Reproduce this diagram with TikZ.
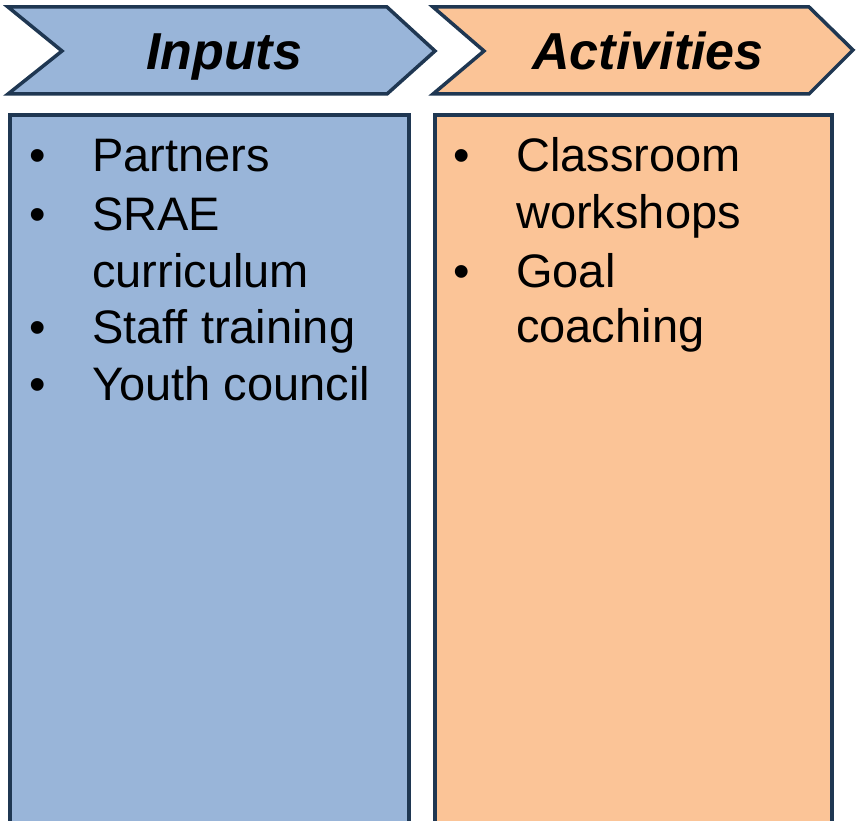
\documentclass[tikz,border=0pt]{standalone}
\usepackage{fontspec}
\setmainfont{Liberation Sans}
\usepackage{tikz}
\usetikzlibrary{positioning}

\definecolor{inputblue}{RGB}{153,181,217}
\definecolor{actorange}{RGB}{251,196,151}
\definecolor{edgenavy}{RGB}{31,55,82}

\tikzset{
    banner/.style = {draw = edgenavy, line width = 3.5pt, line join = miter},
    column/.style = {draw = edgenavy, line width = 3.5pt},
    head/.style = {font = \fontsize{52}{60}\selectfont\bfseries\itshape, inner sep = 0pt},
    entry/.style = {font = \fontsize{47}{57}\selectfont, inner sep = 0pt, anchor = base west},
    dot/.style = {font = \fontsize{47}{57}\selectfont, inner sep = 0pt, anchor = base}
}

\begin{document}
\begin{tikzpicture}[x = 1pt, y = -1pt]
        \useasboundingbox (0, 0) rectangle (856, 821);
        % chevrons on top
        \fill [inputblue] (8, 7) -- (387, 7) -- (435, 51) -- (387, 94) -- (8, 94) -- (62, 51) -- cycle;
        \draw [banner] (8, 7) -- (387, 7) -- (435, 51) -- (387, 94) -- (8, 94) -- (62, 51) -- cycle;
        \fill [actorange] (433, 7) -- (809, 7) -- (853, 50) -- (809, 94) -- (433, 94) -- (484, 51) -- cycle;
        \draw [banner] (433, 7) -- (809, 7) -- (853, 50) -- (809, 94) -- (433, 94) -- (484, 51) -- cycle;
        % columns, open at the bottom
        \fill [inputblue] (10, 115) rectangle (409, 830);
        \draw [column] (10, 830) -- (10, 115) -- (409, 115) -- (409, 830);
        \fill [actorange] (435, 115) rectangle (832, 830);
        \draw [column] (435, 830) -- (435, 115) -- (832, 115) -- (832, 830);
        \node [head, anchor = base] (inputs) at (224, 70) {Inputs};
        \node [head, anchor = base] (activities) at (648, 70) {Activities};
        % inputs list
        \node [dot] (b1) at (38, 172) {•};
        \node [entry] (partners) at (92, 172) {Partners};
        \node [dot] (b2) at (38, 230) {•};
        \node [entry] (srae) at (92, 230) {SRAE};
        \node [entry] (curric) at (92, 287) {curriculum};
        \node [dot] (b3) at (38, 343) {•};
        \node [entry] (staff) at (92, 343) {Staff training};
        \node [dot] (b4) at (38, 400) {•};
        \node [entry] (youth) at (92, 400) {Youth council};
        % activities list
        \node [dot] (b5) at (462, 172) {•};
        \node [entry] (classroom) at (516, 172) {Classroom};
        \node [entry] (workshops) at (516, 228) {workshops};
        \node [dot] (b6) at (462, 287) {•};
        \node [entry] (goal) at (516, 287) {Goal};
        \node [entry] (coaching) at (516, 342) {coaching};
    \end{tikzpicture}
\end{document}
